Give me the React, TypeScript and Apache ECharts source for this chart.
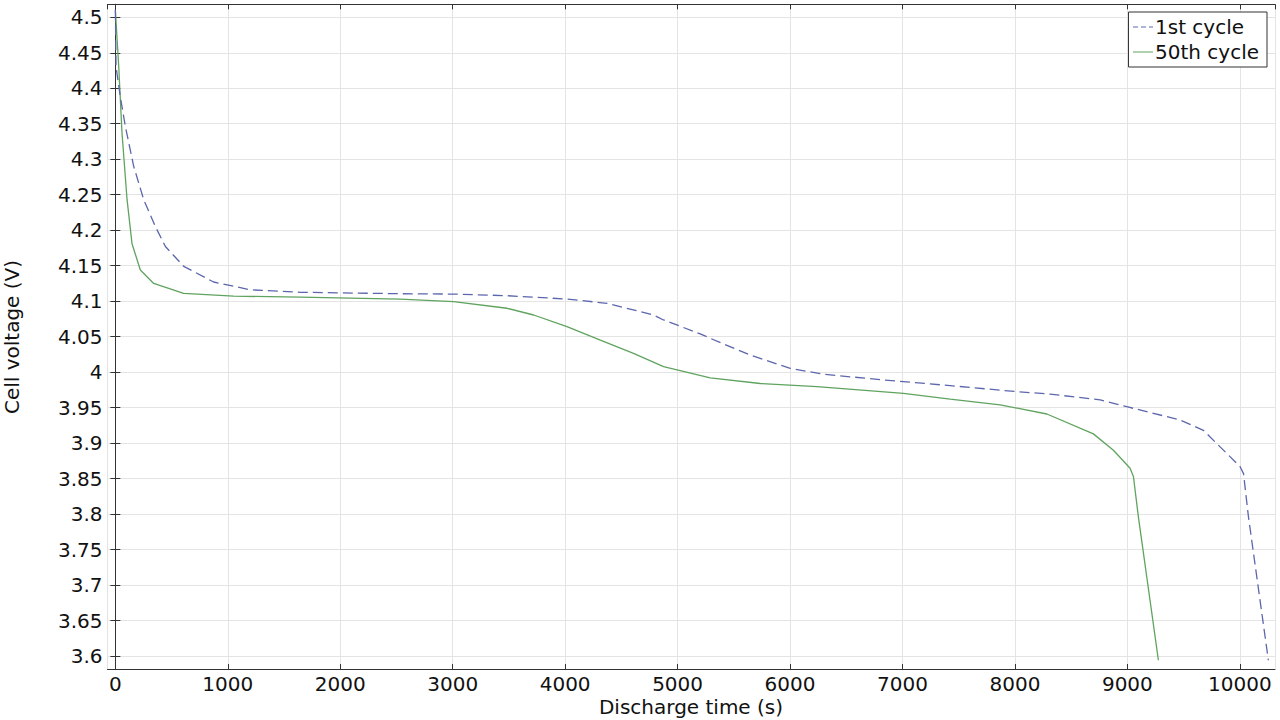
import React, { useEffect, useRef } from "react";
import * as echarts from "echarts";

const seriesNames = ["1st cycle", "50th cycle"];

const cycle1Time = [0, 6, 44, 89, 163, 252, 356, 445, 608, 874, 1200, 1645, 2534, 3008, 3483, 4016, 4372, 4786, 4875, 5201, 5290, 5646, 6002, 6298, 6831, 7424, 8017, 8313, 8758, 8995, 9469, 9676, 10003, 10033, 10077, 10254];
const cycle1Volt = [4.51, 4.43, 4.388, 4.346, 4.29, 4.243, 4.205, 4.177, 4.149, 4.127, 4.116, 4.1125, 4.1105, 4.11, 4.1077, 4.103, 4.097, 4.0805, 4.0735, 4.054, 4.0477, 4.024, 4.0054, 3.997, 3.989, 3.981, 3.9725, 3.969, 3.961, 3.9513, 3.9326, 3.918, 3.8668, 3.857, 3.796, 3.594];

const cycle50Time = [0, 15, 30, 59, 104, 148, 222, 341, 607, 1052, 1645, 2534, 3008, 3483, 3720, 4016, 4313, 4608, 4875, 5290, 5735, 6239, 7009, 7424, 7869, 8284, 8698, 8876, 9024, 9054, 9098, 9276];
const cycle50Volt = [4.51, 4.47, 4.43, 4.337, 4.243, 4.181, 4.144, 4.125, 4.111, 4.107, 4.1058, 4.103, 4.0993, 4.09, 4.0805, 4.064, 4.045, 4.0265, 4.0077, 3.992, 3.984, 3.9795, 3.97, 3.962, 3.954, 3.941, 3.913, 3.89, 3.8645, 3.853, 3.796, 3.594];

const xTitle = "Discharge time (s)";
const yTitle = "Cell voltage (V)";

const FONT = "DejaVu Sans";
const BLUE = "#5c66ad";
const GREEN = "#5fa35f";

export default function App() {
  const ref = useRef<HTMLDivElement>(null);
  useEffect(() => {
    if (!ref.current) return;
    const chart = echarts.init(ref.current, null, { renderer: "svg" });
    const d1 = cycle1Time.map((t, i) => [t, cycle1Volt[i]]);
    const d50 = cycle50Time.map((t, i) => [t, cycle50Volt[i]]);
    const xMin = -70, xMax = 10313, yMin = 3.5817, yMax = 4.5183;
    const tickStyle = { show: true, inside: true, length: 5, lineStyle: { color: "#333", width: 1 } };
    const axisLine = { show: true, lineStyle: { color: "#333", width: 1 } };
    chart.setOption({
      animation: false,
      backgroundColor: "#fff",
      textStyle: { fontFamily: FONT },
      grid: { left: 107.5, right: 5, top: 4.3, bottom: 51, containLabel: false },
      legend: {
        data: [
          { name: seriesNames[0], itemStyle: { opacity: 0 }, lineStyle: { color: BLUE, width: 1, type: [5, 3] } },
          { name: seriesNames[1], itemStyle: { opacity: 0 }, lineStyle: { color: GREEN, width: 1, type: "solid" } },
        ],
        orient: "vertical",
        right: 13,
        top: 12,
        backgroundColor: "#fff",
        borderColor: "#333",
        borderWidth: 1,
        borderRadius: 0,
        padding: [5, 8, 5, 4],
        itemWidth: 20,
        itemHeight: 14,
        itemGap: 5,
        itemStyle: { opacity: 0 },
        textStyle: { fontFamily: FONT, fontSize: 20, color: "#111", padding: [0, 0, 0, -3] },
      },
      xAxis: [
        {
          type: "value",
          min: xMin,
          max: xMax,
          splitNumber: 10,
          axisLine,
          axisTick: tickStyle,
          splitLine: { show: true, lineStyle: { color: "#e4e4e4", width: 1 } },
          axisLabel: {
            show: true,
            showMinLabel: false,
            showMaxLabel: false,
            margin: 5,
            fontFamily: FONT,
            fontSize: 20,
            color: "#111",
            formatter: (v: number) => String(Math.round(v)),
          },
        },
        {
          type: "value",
          position: "top",
          min: xMin,
          max: xMax,
          splitNumber: 10,
          axisLine,
          axisTick: tickStyle,
          splitLine: { show: false },
          axisLabel: { show: false },
        },
      ],
      yAxis: [
        {
          type: "value",
          min: yMin,
          max: yMax,
          splitNumber: 19,
          axisLine,
          axisTick: tickStyle,
          splitLine: { show: true, lineStyle: { color: "#e4e4e4", width: 1 } },
          axisLabel: {
            show: true,
            showMinLabel: false,
            showMaxLabel: false,
            margin: 5,
            fontFamily: FONT,
            fontSize: 20,
            color: "#111",
            formatter: (v: number) => String(+v.toFixed(2)),
          },
        },
        {
          type: "value",
          position: "right",
          min: yMin,
          max: yMax,
          splitNumber: 19,
          axisLine,
          axisTick: tickStyle,
          splitLine: { show: false },
          axisLabel: { show: false },
        },
      ],
      graphic: [
        {
          type: "text",
          x: 691,
          y: 707,
          style: { text: xTitle, font: `20px "${FONT}"`, fill: "#111", textAlign: "center", textVerticalAlign: "middle" },
        },
        {
          type: "text",
          x: 12,
          y: 337,
          rotation: Math.PI / 2,
          style: { text: yTitle, font: `20px "${FONT}"`, fill: "#111", textAlign: "center", textVerticalAlign: "middle" },
        },
      ],
      series: [
        {
          name: seriesNames[0],
          type: "line",
          data: d1,
          symbol: "none",
          symbolSize: 0,
          showSymbol: false,
          lineStyle: { color: BLUE, width: 1.3, type: [10, 5] },
          itemStyle: { color: BLUE },
          z: 3,
        },
        {
          name: seriesNames[1],
          type: "line",
          data: d50,
          symbol: "none",
          symbolSize: 0,
          showSymbol: false,
          lineStyle: { color: GREEN, width: 1.3 },
          itemStyle: { color: GREEN },
          z: 2,
        },
      ],
    });
    return () => chart.dispose();
  }, []);
  return <div ref={ref} style={{ position: "fixed", left: 0, top: 0, width: 1280, height: 720 }} />;
}
